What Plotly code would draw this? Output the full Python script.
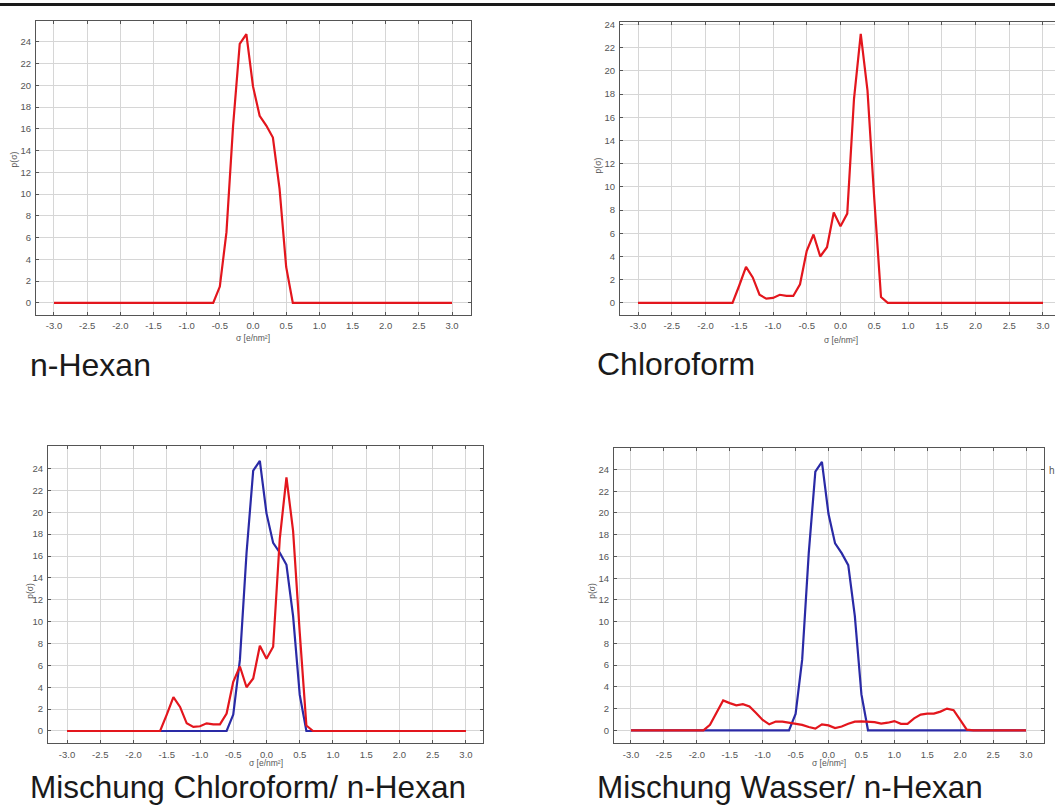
import plotly.graph_objects as go

W, H = 1055, 805

sigma = [-3.0, -2.9, -2.8, -2.7, -2.6, -2.5, -2.4, -2.3, -2.2, -2.1,
         -2.0, -1.9, -1.8, -1.7, -1.6, -1.5, -1.4, -1.3, -1.2, -1.1,
         -1.0, -0.9, -0.8, -0.7, -0.6, -0.5, -0.4, -0.3, -0.2, -0.1,
         0.0, 0.1, 0.2, 0.3, 0.4, 0.5, 0.6, 0.7, 0.8, 0.9,
         1.0, 1.1, 1.2, 1.3, 1.4, 1.5, 1.6, 1.7, 1.8, 1.9,
         2.0, 2.1, 2.2, 2.3, 2.4, 2.5, 2.6, 2.7, 2.8, 2.9, 3.0]

hexan = [0, 0, 0, 0, 0, 0, 0, 0, 0, 0,
         0, 0, 0, 0, 0, 0, 0, 0, 0, 0,
         0, 0, 0, 0, 0, 1.5, 6.5, 16.3, 23.8, 24.7,
         19.9, 17.2, 16.3, 15.2, 10.5, 3.3, 0, 0, 0, 0,
         0, 0, 0, 0, 0, 0, 0, 0, 0, 0,
         0, 0, 0, 0, 0, 0, 0, 0, 0, 0, 0]

chloroform = [0, 0, 0, 0, 0, 0, 0, 0, 0, 0,
              0, 0, 0, 0, 0, 1.5, 3.1, 2.2, 0.7, 0.37,
              0.43, 0.7, 0.6, 0.6, 1.6, 4.5, 5.9, 4.0, 4.8, 7.8,
              6.6, 7.7, 17.6, 23.2, 18.3, 9.0, 0.5, 0, 0, 0,
              0, 0, 0, 0, 0, 0, 0, 0, 0, 0,
              0, 0, 0, 0, 0, 0, 0, 0, 0, 0, 0]

wasser = [0, 0, 0, 0, 0, 0, 0, 0, 0, 0,
          0, 0, 0.5, 1.6, 2.75, 2.5, 2.3, 2.4, 2.2, 1.6,
          0.95, 0.55, 0.8, 0.8, 0.7, 0.6, 0.5, 0.3, 0.15, 0.55,
          0.45, 0.2, 0.35, 0.6, 0.8, 0.82, 0.78, 0.75, 0.62, 0.7,
          0.85, 0.6, 0.6, 1.1, 1.45, 1.53, 1.53, 1.72, 2.0, 1.85,
          0.95, 0.06, 0, 0, 0, 0, 0, 0, 0, 0, 0]

subtitles = ["n-Hexan", "Chloroform", "Mischung Chloroform/ n-Hexan", "Mischung Wasser/ n-Hexan"]
x_ticks = [-3.0, -2.5, -2.0, -1.5, -1.0, -0.5, 0.0, 0.5, 1.0, 1.5, 2.0, 2.5, 3.0]
x_ticklabels = ["-3.0", "-2.5", "-2.0", "-1.5", "-1.0", "-0.5", "0.0", "0.5", "1.0", "1.5", "2.0", "2.5", "3.0"]
y_ticks = [0, 2, 4, 6, 8, 10, 12, 14, 16, 18, 20, 22, 24]
x_title = "σ [e/nm²]"
y_title = "p(σ)"

RED = "#e3161d"
BLUE = "#2a2aa6"

# panel boxes in pixels: (left, right, top, bottom), axis ranges
panels = [
    dict(box=(36, 471, 18, 313), xr=(-3.271, 3.286), yr=(-1.10, 25.92), ymirror="ticks",
         xt=(253, 336), yt=(14, 157), sub=(28, 363), fs=32),
    dict(box=(620, 1055, 19, 313), xr=(-3.267, 3.178), yr=(-1.03, 24.23), ymirror=False,
         xt=(841, 338), yt=(598, 163), sub=(595, 362), fs=32),
    dict(box=(48, 483, 445, 743), xr=(-3.286, 3.256), yr=(-1.12, 26.03), ymirror="ticks",
         xt=(266, 763), yt=(30, 590), sub=(28, 787), fs=31.5),
    dict(box=(614, 1044, 447, 743), xr=(-3.258, 3.273), yr=(-1.19, 25.95), ymirror="ticks",
         xt=(829, 763), yt=(592, 590), sub=(595, 787), fs=31.5),
]

series = [
    [(hexan, RED)],
    [(chloroform, RED)],
    [(hexan, BLUE), (chloroform, RED)],
    [(hexan, BLUE), (wasser, RED)],
]

fig = go.Figure()
layout = dict(
    width=W, height=H, margin=dict(l=0, r=0, t=0, b=0),
    paper_bgcolor="white", plot_bgcolor="white", showlegend=False,
    font=dict(family="Liberation Sans, Arial, sans-serif"),
)
annotations = []
tickfont = dict(size=9.5, color="#555555", family="Liberation Sans, Arial, sans-serif")

for i, p in enumerate(panels):
    n = i + 1
    xa = "x" if n == 1 else f"x{n}"
    ya = "y" if n == 1 else f"y{n}"
    l, r, t, b = p["box"]
    layout["xaxis" if n == 1 else f"xaxis{n}"] = dict(
        domain=[l / W, r / W], anchor=ya, range=list(p["xr"]),
        tickmode="array", tickvals=x_ticks, ticktext=x_ticklabels,
        ticks="inside", ticklen=3, tickcolor="#555555",
        showline=True, linecolor="#555555", linewidth=1.2, mirror="ticks",
        showgrid=True, gridcolor="#d6d6d6", gridwidth=1, zeroline=False,
        tickfont=tickfont, ticklabelstandoff=2,
    )
    layout["yaxis" if n == 1 else f"yaxis{n}"] = dict(
        domain=[1 - b / H, 1 - t / H], anchor=xa, range=list(p["yr"]),
        tickmode="array", tickvals=y_ticks,
        ticks="inside", ticklen=3, tickcolor="#555555",
        showline=True, linecolor="#555555", linewidth=1.2, mirror=p["ymirror"],
        showgrid=True, gridcolor="#d6d6d6", gridwidth=1, zeroline=False,
        tickfont=tickfont, ticklabelstandoff=2,
    )
    for vals, col in series[i]:
        fig.add_trace(go.Scatter(x=sigma, y=vals, mode="lines", xaxis=xa, yaxis=ya,
                                 line=dict(color=col, width=2.2)))
    annotations.append(dict(text=x_title, xref="paper", yref="paper",
                            x=p["xt"][0] / W, y=1 - p["xt"][1] / H, showarrow=False,
                            xanchor="center", yanchor="middle",
                            font=dict(size=8.5, color="#555555")))
    annotations.append(dict(text=y_title, xref="paper", yref="paper", textangle=-90,
                            x=p["yt"][0] / W, y=1 - p["yt"][1] / H, showarrow=False,
                            xanchor="center", yanchor="middle",
                            font=dict(size=8.5, color="#555555")))
    annotations.append(dict(text=subtitles[i], xref="paper", yref="paper",
                            x=p["sub"][0] / W, y=1 - p["sub"][1] / H, showarrow=False,
                            xanchor="left", yanchor="middle",
                            font=dict(size=p["fs"], color="#1a1a1a")))

annotations.append(dict(text="h", xref="paper", yref="paper", x=1047 / W, y=1 - 469 / H,
                        showarrow=False, xanchor="left", yanchor="middle",
                        font=dict(size=10, color="#555555")))

layout["annotations"] = annotations
layout["shapes"] = [dict(type="rect", xref="paper", yref="paper", x0=0, x1=1,
                         y0=1 - 3 / H, y1=1, fillcolor="#1a1a1a", line=dict(width=0))]
fig.update_layout(**layout)
fig.write_html("out.html")
